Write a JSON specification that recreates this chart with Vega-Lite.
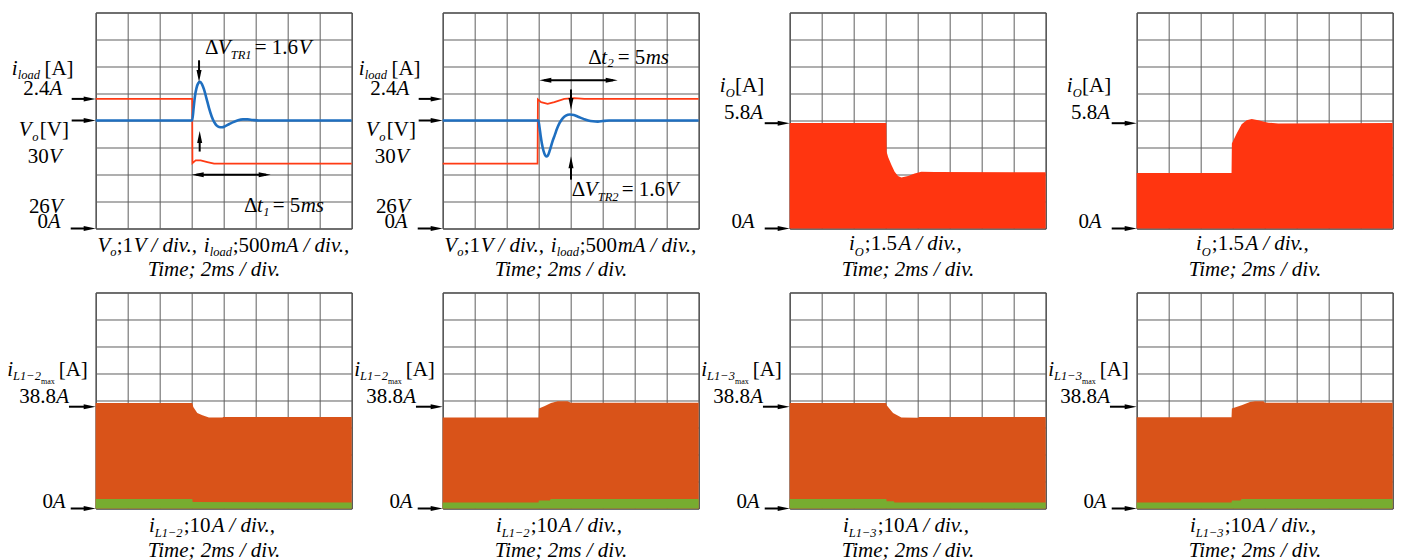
{
"$schema": "https://vega.github.io/schema/vega-lite/v6.json",
"padding": {"left": 6.68, "top": 11.5, "right": 0, "bottom": 0},
"background": "white",
"data": {"values": [
{"p":1,"r":"iload","t":0,"d":4.8},{"p":1,"r":"iload","t":6.03,"d":4.8},{"p":1,"r":"iload","t":6.05,"d":2.42},{"p":1,"r":"iload","t":6.25,"d":2.52},{"p":1,"r":"iload","t":6.56,"d":2.52},{"p":1,"r":"iload","t":6.98,"d":2.46},{"p":1,"r":"iload","t":7.4,"d":2.4},{"p":1,"r":"iload","t":16,"d":2.4},
{"p":1,"r":"vo","t":0,"d":4.0},{"p":1,"r":"vo","t":6.03,"d":4.0},{"p":1,"r":"vo","t":6.12,"d":4.45},{"p":1,"r":"vo","t":6.2,"d":4.88},{"p":1,"r":"vo","t":6.3,"d":5.2},{"p":1,"r":"vo","t":6.4,"d":5.37},{"p":1,"r":"vo","t":6.52,"d":5.43},{"p":1,"r":"vo","t":6.64,"d":5.35},{"p":1,"r":"vo","t":6.77,"d":5.15},{"p":1,"r":"vo","t":6.92,"d":4.83},{"p":1,"r":"vo","t":7.08,"d":4.47},{"p":1,"r":"vo","t":7.25,"d":4.15},{"p":1,"r":"vo","t":7.4,"d":3.95},{"p":1,"r":"vo","t":7.55,"d":3.82},{"p":1,"r":"vo","t":7.71,"d":3.76},{"p":1,"r":"vo","t":7.9,"d":3.75},{"p":1,"r":"vo","t":8.1,"d":3.79},{"p":1,"r":"vo","t":8.33,"d":3.86},{"p":1,"r":"vo","t":8.6,"d":3.94},{"p":1,"r":"vo","t":8.9,"d":4.01},{"p":1,"r":"vo","t":9.2,"d":4.04},{"p":1,"r":"vo","t":9.5,"d":4.04},{"p":1,"r":"vo","t":9.8,"d":4.02},{"p":1,"r":"vo","t":10.2,"d":4.0},{"p":1,"r":"vo","t":16,"d":4.0},
{"p":2,"r":"iload","t":0,"d":2.4},{"p":2,"r":"iload","t":5.93,"d":2.4},{"p":2,"r":"iload","t":5.95,"d":4.78},{"p":2,"r":"iload","t":6.15,"d":4.68},{"p":2,"r":"iload","t":6.56,"d":4.62},{"p":2,"r":"iload","t":6.98,"d":4.68},{"p":2,"r":"iload","t":7.6,"d":4.8},{"p":2,"r":"iload","t":8.23,"d":4.83},{"p":2,"r":"iload","t":8.85,"d":4.8},{"p":2,"r":"iload","t":16,"d":4.8},
{"p":2,"r":"vo","t":0,"d":4.0},{"p":2,"r":"vo","t":5.98,"d":4.0},{"p":2,"r":"vo","t":6.05,"d":3.75},{"p":2,"r":"vo","t":6.12,"d":3.45},{"p":2,"r":"vo","t":6.2,"d":3.15},{"p":2,"r":"vo","t":6.3,"d":2.88},{"p":2,"r":"vo","t":6.4,"d":2.72},{"p":2,"r":"vo","t":6.48,"d":2.67},{"p":2,"r":"vo","t":6.57,"d":2.7},{"p":2,"r":"vo","t":6.7,"d":2.9},{"p":2,"r":"vo","t":6.85,"d":3.2},{"p":2,"r":"vo","t":7.0,"d":3.45},{"p":2,"r":"vo","t":7.15,"d":3.7},{"p":2,"r":"vo","t":7.3,"d":3.9},{"p":2,"r":"vo","t":7.5,"d":4.08},{"p":2,"r":"vo","t":7.7,"d":4.18},{"p":2,"r":"vo","t":7.95,"d":4.22},{"p":2,"r":"vo","t":8.2,"d":4.2},{"p":2,"r":"vo","t":8.5,"d":4.13},{"p":2,"r":"vo","t":8.8,"d":4.06},{"p":2,"r":"vo","t":9.1,"d":4.0},{"p":2,"r":"vo","t":9.4,"d":3.97},{"p":2,"r":"vo","t":9.7,"d":3.96},{"p":2,"r":"vo","t":10.0,"d":3.98},{"p":2,"r":"vo","t":10.4,"d":4.0},{"p":2,"r":"vo","t":16,"d":4.0},
{"p":3,"r":"io","t":0,"d":3.91},{"p":3,"r":"io","t":6.04,"d":3.91},{"p":3,"r":"io","t":6.06,"d":2.84},{"p":3,"r":"io","t":6.15,"d":2.65},{"p":3,"r":"io","t":6.36,"d":2.35},{"p":3,"r":"io","t":6.56,"d":2.1},{"p":3,"r":"io","t":6.77,"d":1.94},{"p":3,"r":"io","t":6.98,"d":1.89},{"p":3,"r":"io","t":7.4,"d":1.94},{"p":3,"r":"io","t":7.81,"d":2.04},{"p":3,"r":"io","t":8.23,"d":2.1},{"p":3,"r":"io","t":9.06,"d":2.09},{"p":3,"r":"io","t":16,"d":2.08},
{"p":4,"r":"io","t":0,"d":2.06},{"p":4,"r":"io","t":5.93,"d":2.06},{"p":4,"r":"io","t":5.95,"d":3.15},{"p":4,"r":"io","t":6.25,"d":3.52},{"p":4,"r":"io","t":6.56,"d":3.86},{"p":4,"r":"io","t":6.875,"d":4.01},{"p":4,"r":"io","t":7.19,"d":4.06},{"p":4,"r":"io","t":7.6,"d":4.01},{"p":4,"r":"io","t":8.23,"d":3.92},{"p":4,"r":"io","t":8.85,"d":3.89},{"p":4,"r":"io","t":16,"d":3.91},
{"p":5,"r":"iL","t":0,"d":3.91},{"p":5,"r":"iL","t":6.04,"d":3.91},{"p":5,"r":"iL","t":6.1,"d":3.76},{"p":5,"r":"iL","t":6.35,"d":3.54},{"p":5,"r":"iL","t":6.67,"d":3.45},{"p":5,"r":"iL","t":7.08,"d":3.37},{"p":5,"r":"iL","t":7.92,"d":3.37},{"p":5,"r":"iL","t":7.98,"d":3.39},{"p":5,"r":"iL","t":16,"d":3.39},
{"p":5,"r":"iLlow","t":0,"d":0.35},{"p":5,"r":"iLlow","t":6.04,"d":0.35},{"p":5,"r":"iLlow","t":6.06,"d":0.24},{"p":5,"r":"iLlow","t":16,"d":0.22},
{"p":6,"r":"iL","t":0,"d":3.37},{"p":6,"r":"iL","t":5.99,"d":3.37},{"p":6,"r":"iL","t":6.01,"d":3.7},{"p":6,"r":"iL","t":6.35,"d":3.79},{"p":6,"r":"iL","t":6.77,"d":3.91},{"p":6,"r":"iL","t":7.19,"d":3.97},{"p":6,"r":"iL","t":7.8,"d":3.97},{"p":6,"r":"iL","t":8.02,"d":3.92},{"p":6,"r":"iL","t":16,"d":3.92},
{"p":6,"r":"iLlow","t":0,"d":0.22},{"p":6,"r":"iLlow","t":5.99,"d":0.22},{"p":6,"r":"iLlow","t":6.01,"d":0.3},{"p":6,"r":"iLlow","t":6.7,"d":0.3},{"p":6,"r":"iLlow","t":6.75,"d":0.35},{"p":6,"r":"iLlow","t":16,"d":0.35},
{"p":7,"r":"iL","t":0,"d":3.91},{"p":7,"r":"iL","t":6.04,"d":3.91},{"p":7,"r":"iL","t":6.06,"d":3.82},{"p":7,"r":"iL","t":6.46,"d":3.54},{"p":7,"r":"iL","t":6.98,"d":3.37},{"p":7,"r":"iL","t":8.0,"d":3.36},{"p":7,"r":"iL","t":8.1,"d":3.39},{"p":7,"r":"iL","t":16,"d":3.39},
{"p":7,"r":"iLlow","t":0,"d":0.35},{"p":7,"r":"iLlow","t":6.04,"d":0.35},{"p":7,"r":"iLlow","t":6.06,"d":0.27},{"p":7,"r":"iLlow","t":6.5,"d":0.27},{"p":7,"r":"iLlow","t":6.55,"d":0.22},{"p":7,"r":"iLlow","t":16,"d":0.22},
{"p":8,"r":"iL","t":0,"d":3.38},{"p":8,"r":"iL","t":5.93,"d":3.38},{"p":8,"r":"iL","t":5.95,"d":3.7},{"p":8,"r":"iL","t":6.56,"d":3.82},{"p":8,"r":"iL","t":7.08,"d":3.94},{"p":8,"r":"iL","t":7.4,"d":3.97},{"p":8,"r":"iL","t":7.92,"d":3.97},{"p":8,"r":"iL","t":8.02,"d":3.92},{"p":8,"r":"iL","t":16,"d":3.92},
{"p":8,"r":"iLlow","t":0,"d":0.22},{"p":8,"r":"iLlow","t":5.93,"d":0.22},{"p":8,"r":"iLlow","t":5.95,"d":0.3},{"p":8,"r":"iLlow","t":6.5,"d":0.3},{"p":8,"r":"iLlow","t":6.55,"d":0.35},{"p":8,"r":"iLlow","t":16,"d":0.35},

{"p":1,"r":"arrow","t":-1.5,"d":4.8,"t2":-0.7,"d2":4.8},{"p":1,"r":"head","t":-0.375,"d":4.8,"dir":"right"},
{"p":1,"r":"arrow","t":-1.5,"d":4.0,"t2":-0.7,"d2":4.0},{"p":1,"r":"head","t":-0.375,"d":4.0,"dir":"right"},
{"p":1,"r":"arrow","t":-1.56,"d":0,"t2":-0.7,"d2":0},{"p":1,"r":"head","t":-0.375,"d":0,"dir":"right"},
{"p":1,"r":"arrow","t":6.46,"d":6.23,"t2":6.46,"d2":5.75},{"p":1,"r":"head","t":6.46,"d":5.65,"dir":"down"},
{"p":1,"r":"arrow","t":6.5,"d":2.85,"t2":6.5,"d2":3.3},{"p":1,"r":"head","t":6.5,"d":3.39,"dir":"up"},
{"p":1,"r":"arrow","t":6.3,"d":1.99,"t2":10.65,"d2":1.99},{"p":1,"r":"head","t":6.375,"d":1.99,"dir":"left"},{"p":1,"r":"head","t":10.565,"d":1.99,"dir":"right"},
{"p":2,"r":"arrow","t":-1.5,"d":4.8,"t2":-0.7,"d2":4.8},{"p":2,"r":"head","t":-0.375,"d":4.8,"dir":"right"},
{"p":2,"r":"arrow","t":-1.5,"d":4.0,"t2":-0.7,"d2":4.0},{"p":2,"r":"head","t":-0.375,"d":4.0,"dir":"right"},
{"p":2,"r":"arrow","t":-1.56,"d":0,"t2":-0.7,"d2":0},{"p":2,"r":"head","t":-0.375,"d":0,"dir":"right"},
{"p":2,"r":"arrow","t":6.35,"d":5.49,"t2":10.65,"d2":5.49},{"p":2,"r":"head","t":6.415,"d":5.49,"dir":"left"},{"p":2,"r":"head","t":10.565,"d":5.49,"dir":"right"},
{"p":2,"r":"arrow","t":8.02,"d":5.15,"t2":8.02,"d2":4.7},{"p":2,"r":"head","t":8.02,"d":4.61,"dir":"down"},
{"p":2,"r":"arrow","t":8.02,"d":1.81,"t2":8.02,"d2":2.35},{"p":2,"r":"head","t":8.02,"d":2.45,"dir":"up"},
{"p":3,"r":"arrow","t":-1.56,"d":3.9,"t2":-0.7,"d2":3.9},{"p":3,"r":"head","t":-0.375,"d":3.9,"dir":"right"},
{"p":3,"r":"arrow","t":-1.56,"d":0,"t2":-0.7,"d2":0},{"p":3,"r":"head","t":-0.375,"d":0,"dir":"right"},
{"p":4,"r":"arrow","t":-1.56,"d":3.9,"t2":-0.7,"d2":3.9},{"p":4,"r":"head","t":-0.375,"d":3.9,"dir":"right"},
{"p":4,"r":"arrow","t":-1.56,"d":0,"t2":-0.7,"d2":0},{"p":4,"r":"head","t":-0.375,"d":0,"dir":"right"},
{"p":5,"r":"arrow","t":-1.67,"d":3.77,"t2":-0.7,"d2":3.77},{"p":5,"r":"head","t":-0.375,"d":3.77,"dir":"right"},
{"p":5,"r":"arrow","t":-1.56,"d":0,"t2":-0.7,"d2":0},{"p":5,"r":"head","t":-0.375,"d":0,"dir":"right"},
{"p":6,"r":"arrow","t":-1.67,"d":3.77,"t2":-0.7,"d2":3.77},{"p":6,"r":"head","t":-0.375,"d":3.77,"dir":"right"},
{"p":6,"r":"arrow","t":-1.56,"d":0,"t2":-0.7,"d2":0},{"p":6,"r":"head","t":-0.375,"d":0,"dir":"right"},
{"p":7,"r":"arrow","t":-1.67,"d":3.77,"t2":-0.7,"d2":3.77},{"p":7,"r":"head","t":-0.375,"d":3.77,"dir":"right"},
{"p":7,"r":"arrow","t":-1.56,"d":0,"t2":-0.7,"d2":0},{"p":7,"r":"head","t":-0.375,"d":0,"dir":"right"},
{"p":8,"r":"arrow","t":-1.67,"d":3.77,"t2":-0.7,"d2":3.77},{"p":8,"r":"head","t":-0.375,"d":3.77,"dir":"right"},
{"p":8,"r":"arrow","t":-1.56,"d":0,"t2":-0.7,"d2":0},{"p":8,"r":"head","t":-0.375,"d":0,"dir":"right"},

{"p":1,"r":"ti","t":-5.25,"d":5.68,"txt":"i"},{"p":1,"r":"ts","t":-4.875,"d":5.52,"txt":"load"},{"p":1,"r":"tn","t":-3.2,"d":5.68,"txt":"[A]"},
{"p":1,"r":"tn","t":-4.52,"d":4.94,"txt":"2.4"},{"p":1,"r":"ti","t":-2.88,"d":4.94,"txt":"A"},
{"p":1,"r":"ti","t":-4.81,"d":3.41,"txt":"V"},{"p":1,"r":"ts","t":-3.97,"d":3.24,"txt":"o"},{"p":1,"r":"tn","t":-3.49,"d":3.41,"txt":"[V]"},
{"p":1,"r":"tn","t":-4.24,"d":2.43,"txt":"30"},{"p":1,"r":"ti","t":-2.925,"d":2.43,"txt":"V"},
{"p":1,"r":"tn","t":-4.175,"d":0.58,"txt":"26"},{"p":1,"r":"ti","t":-2.86,"d":0.58,"txt":"V"},
{"p":1,"r":"tn","t":-3.64,"d":0.02,"txt":"0"},{"p":1,"r":"ti","t":-2.99,"d":0.02,"txt":"A"},
{"p":1,"r":"ti","t":0.106,"d":-0.86,"txt":"V"},{"p":1,"r":"ts","t":0.906,"d":-1.03,"txt":"o"},{"p":1,"r":"tn","t":1.3125,"d":-0.86,"txt":";1"},{"p":1,"r":"ti","t":2.375,"d":-0.86,"txt":"V / div.,"},{"p":1,"r":"ti","t":6.75,"d":-0.86,"txt":"i"},{"p":1,"r":"ts","t":7.125,"d":-1.03,"txt":"load"},{"p":1,"r":"tn","t":8.5625,"d":-0.86,"txt":";500"},{"p":1,"r":"ti","t":10.9375,"d":-0.86,"txt":"mA / div.,"},
{"p":1,"r":"ti","t":3.25,"d":-1.77,"txt":"Time; 2ms / div."},
{"p":1,"r":"tn","t":6.83,"d":6.48,"txt":"Δ"},{"p":1,"r":"ti","t":7.625,"d":6.48,"txt":"V"},{"p":1,"r":"ts","t":8.44,"d":6.29,"txt":"TR1"},{"p":1,"r":"tn","t":9.94,"d":6.48,"txt":"= 1.6"},{"p":1,"r":"ti","t":12.69,"d":6.48,"txt":"V"},
{"p":1,"r":"tn","t":9.27,"d":0.6,"txt":"Δ"},{"p":1,"r":"ti","t":10.075,"d":0.6,"txt":"t"},{"p":1,"r":"ts","t":10.47,"d":0.45,"txt":"1"},{"p":1,"r":"tn","t":11.06,"d":0.6,"txt":"= 5"},{"p":1,"r":"ti","t":12.81,"d":0.6,"txt":"ms"},

{"p":2,"r":"ti","t":-5.25,"d":5.68,"txt":"i"},{"p":2,"r":"ts","t":-4.875,"d":5.52,"txt":"load"},{"p":2,"r":"tn","t":-3.2,"d":5.68,"txt":"[A]"},
{"p":2,"r":"tn","t":-4.52,"d":4.94,"txt":"2.4"},{"p":2,"r":"ti","t":-2.88,"d":4.94,"txt":"A"},
{"p":2,"r":"ti","t":-4.81,"d":3.41,"txt":"V"},{"p":2,"r":"ts","t":-3.97,"d":3.24,"txt":"o"},{"p":2,"r":"tn","t":-3.49,"d":3.41,"txt":"[V]"},
{"p":2,"r":"tn","t":-4.24,"d":2.43,"txt":"30"},{"p":2,"r":"ti","t":-2.925,"d":2.43,"txt":"V"},
{"p":2,"r":"tn","t":-4.175,"d":0.58,"txt":"26"},{"p":2,"r":"ti","t":-2.86,"d":0.58,"txt":"V"},
{"p":2,"r":"tn","t":-3.64,"d":0.02,"txt":"0"},{"p":2,"r":"ti","t":-2.99,"d":0.02,"txt":"A"},
{"p":2,"r":"ti","t":0.106,"d":-0.86,"txt":"V"},{"p":2,"r":"ts","t":0.906,"d":-1.03,"txt":"o"},{"p":2,"r":"tn","t":1.3125,"d":-0.86,"txt":";1"},{"p":2,"r":"ti","t":2.375,"d":-0.86,"txt":"V / div.,"},{"p":2,"r":"ti","t":6.75,"d":-0.86,"txt":"i"},{"p":2,"r":"ts","t":7.125,"d":-1.03,"txt":"load"},{"p":2,"r":"tn","t":8.5625,"d":-0.86,"txt":";500"},{"p":2,"r":"ti","t":10.9375,"d":-0.86,"txt":"mA / div.,"},
{"p":2,"r":"ti","t":3.25,"d":-1.77,"txt":"Time; 2ms / div."},
{"p":2,"r":"tn","t":9.1,"d":6.11,"txt":"Δ"},{"p":2,"r":"ti","t":9.906,"d":6.11,"txt":"t"},{"p":2,"r":"ts","t":10.3,"d":5.98,"txt":"2"},{"p":2,"r":"tn","t":10.94,"d":6.11,"txt":"= 5"},{"p":2,"r":"ti","t":12.69,"d":6.11,"txt":"ms"},
{"p":2,"r":"tn","t":8.06,"d":1.19,"txt":"Δ"},{"p":2,"r":"ti","t":8.875,"d":1.19,"txt":"V"},{"p":2,"r":"ts","t":9.69,"d":1.01,"txt":"TR2"},{"p":2,"r":"tn","t":11.19,"d":1.19,"txt":"= 1.6"},{"p":2,"r":"ti","t":13.94,"d":1.19,"txt":"V"},

{"p":3,"r":"ti","t":-4.375,"d":5.06,"txt":"i"},{"p":3,"r":"ts","t":-4.0,"d":4.88,"txt":"O"},{"p":3,"r":"tn","t":-3.41,"d":5.06,"txt":"[A]"},
{"p":3,"r":"tn","t":-4.11,"d":4.04,"txt":"5.8"},{"p":3,"r":"ti","t":-2.47,"d":4.04,"txt":"A"},
{"p":3,"r":"tn","t":-3.64,"d":0.03,"txt":"0"},{"p":3,"r":"ti","t":-2.99,"d":0.03,"txt":"A"},
{"p":3,"r":"ti","t":3.71,"d":-0.8,"txt":"i"},{"p":3,"r":"ts","t":4.06,"d":-1.02,"txt":"O"},{"p":3,"r":"tn","t":4.7,"d":-0.8,"txt":";1.5"},{"p":3,"r":"ti","t":6.8,"d":-0.8,"txt":"A / div.,"},
{"p":3,"r":"ti","t":3.25,"d":-1.77,"txt":"Time; 2ms / div."},
{"p":4,"r":"ti","t":-4.375,"d":5.06,"txt":"i"},{"p":4,"r":"ts","t":-4.0,"d":4.88,"txt":"O"},{"p":4,"r":"tn","t":-3.41,"d":5.06,"txt":"[A]"},
{"p":4,"r":"tn","t":-4.11,"d":4.04,"txt":"5.8"},{"p":4,"r":"ti","t":-2.47,"d":4.04,"txt":"A"},
{"p":4,"r":"tn","t":-3.64,"d":0.03,"txt":"0"},{"p":4,"r":"ti","t":-2.99,"d":0.03,"txt":"A"},
{"p":4,"r":"ti","t":3.71,"d":-0.8,"txt":"i"},{"p":4,"r":"ts","t":4.06,"d":-1.02,"txt":"O"},{"p":4,"r":"tn","t":4.7,"d":-0.8,"txt":";1.5"},{"p":4,"r":"ti","t":6.8,"d":-0.8,"txt":"A / div.,"},
{"p":4,"r":"ti","t":3.25,"d":-1.77,"txt":"Time; 2ms / div."},

{"p":5,"r":"ti","t":-5.52,"d":4.92,"txt":"i"},{"p":5,"r":"ts","t":-5.16,"d":4.76,"txt":"L1−2"},{"p":5,"r":"tss","t":-3.41,"d":4.62,"txt":"max"},{"p":5,"r":"tn","t":-2.31,"d":4.92,"txt":"[A]"},
{"p":5,"r":"tn","t":-4.77,"d":3.9,"txt":"38.8"},{"p":5,"r":"ti","t":-2.47,"d":3.9,"txt":"A"},
{"p":5,"r":"tn","t":-3.33,"d":0.01,"txt":"0"},{"p":5,"r":"ti","t":-2.68,"d":0.01,"txt":"A"},
{"p":5,"r":"ti","t":3.33,"d":-0.87,"txt":"i"},{"p":5,"r":"ts","t":3.69,"d":-1.05,"txt":"L1−2"},{"p":5,"r":"tn","t":5.5,"d":-0.87,"txt":";10"},{"p":5,"r":"ti","t":7.25,"d":-0.87,"txt":"A / div.,"},
{"p":5,"r":"ti","t":3.25,"d":-1.78,"txt":"Time; 2ms / div."},
{"p":6,"r":"ti","t":-5.52,"d":4.92,"txt":"i"},{"p":6,"r":"ts","t":-5.16,"d":4.76,"txt":"L1−2"},{"p":6,"r":"tss","t":-3.41,"d":4.62,"txt":"max"},{"p":6,"r":"tn","t":-2.31,"d":4.92,"txt":"[A]"},
{"p":6,"r":"tn","t":-4.77,"d":3.9,"txt":"38.8"},{"p":6,"r":"ti","t":-2.47,"d":3.9,"txt":"A"},
{"p":6,"r":"tn","t":-3.33,"d":0.01,"txt":"0"},{"p":6,"r":"ti","t":-2.68,"d":0.01,"txt":"A"},
{"p":6,"r":"ti","t":3.33,"d":-0.87,"txt":"i"},{"p":6,"r":"ts","t":3.69,"d":-1.05,"txt":"L1−2"},{"p":6,"r":"tn","t":5.5,"d":-0.87,"txt":";10"},{"p":6,"r":"ti","t":7.25,"d":-0.87,"txt":"A / div.,"},
{"p":6,"r":"ti","t":3.25,"d":-1.78,"txt":"Time; 2ms / div."},
{"p":7,"r":"ti","t":-5.52,"d":4.92,"txt":"i"},{"p":7,"r":"ts","t":-5.16,"d":4.76,"txt":"L1−3"},{"p":7,"r":"tss","t":-3.41,"d":4.62,"txt":"max"},{"p":7,"r":"tn","t":-2.31,"d":4.92,"txt":"[A]"},
{"p":7,"r":"tn","t":-4.77,"d":3.9,"txt":"38.8"},{"p":7,"r":"ti","t":-2.47,"d":3.9,"txt":"A"},
{"p":7,"r":"tn","t":-3.33,"d":0.01,"txt":"0"},{"p":7,"r":"ti","t":-2.68,"d":0.01,"txt":"A"},
{"p":7,"r":"ti","t":3.33,"d":-0.87,"txt":"i"},{"p":7,"r":"ts","t":3.69,"d":-1.05,"txt":"L1−3"},{"p":7,"r":"tn","t":5.5,"d":-0.87,"txt":";10"},{"p":7,"r":"ti","t":7.25,"d":-0.87,"txt":"A / div.,"},
{"p":7,"r":"ti","t":3.25,"d":-1.78,"txt":"Time; 2ms / div."},
{"p":8,"r":"ti","t":-5.52,"d":4.92,"txt":"i"},{"p":8,"r":"ts","t":-5.16,"d":4.76,"txt":"L1−3"},{"p":8,"r":"tss","t":-3.41,"d":4.62,"txt":"max"},{"p":8,"r":"tn","t":-2.31,"d":4.92,"txt":"[A]"},
{"p":8,"r":"tn","t":-4.77,"d":3.9,"txt":"38.8"},{"p":8,"r":"ti","t":-2.47,"d":3.9,"txt":"A"},
{"p":8,"r":"tn","t":-3.33,"d":0.01,"txt":"0"},{"p":8,"r":"ti","t":-2.68,"d":0.01,"txt":"A"},
{"p":8,"r":"ti","t":3.33,"d":-0.87,"txt":"i"},{"p":8,"r":"ts","t":3.69,"d":-1.05,"txt":"L1−3"},{"p":8,"r":"tn","t":5.5,"d":-0.87,"txt":";10"},{"p":8,"r":"ti","t":7.25,"d":-0.87,"txt":"A / div.,"},
{"p":8,"r":"ti","t":3.25,"d":-1.78,"txt":"Time; 2ms / div."}
]},
"facet": {"field": "p", "type": "ordinal", "header": {"title": null, "labels": false, "labelExpr": "''", "labelFontSize": 0, "labelPadding": 0, "titlePadding": 0}},
"columns": 4,
"spacing": {"row": 64, "column": 91},
"bounds": "flush",
"spec": {
  "width": 256,
  "height": 216,
  "encoding": {
    "x": {"field": "t", "type": "quantitative", "scale": {"domain": [0, 16], "nice": false, "zero": false},
          "axis": {"values": [0,2,4,6,8,10,12,14,16], "grid": true, "labels": false, "ticks": false, "domain": false, "title": null, "gridColor": "#5e5e5e", "gridWidth": 1, "gridOpacity": 1}},
    "y": {"field": "d", "type": "quantitative", "scale": {"domain": [0, 8], "nice": false, "zero": false},
          "axis": {"values": [0,1,2,3,4,5,6,7,8], "grid": true, "labels": false, "ticks": false, "domain": false, "title": null, "gridColor": "#5e5e5e", "gridWidth": 1, "gridOpacity": 1}}
  },
  "layer": [
    {"transform": [{"filter": "datum.r === 'iL'"}], "mark": {"type": "area", "color": "#D95319", "opacity": 1}},
    {"transform": [{"filter": "datum.r === 'iLlow'"}], "mark": {"type": "area", "color": "#77AC30", "opacity": 1}},
    {"transform": [{"filter": "datum.r === 'io'"}], "mark": {"type": "area", "color": "#FF3510", "opacity": 1}},
    {"transform": [{"filter": "datum.r === 'iload'"}], "mark": {"type": "line", "color": "#FF3B14", "strokeWidth": 1.7}},
    {"transform": [{"filter": "datum.r === 'vo'"}], "mark": {"type": "line", "color": "#1F6FC0", "strokeWidth": 2.6, "interpolate": "monotone"}},
    {"transform": [{"filter": "datum.r === 'arrow'"}], "mark": {"type": "rule", "color": "#000000", "strokeWidth": 2},
     "encoding": {"x2": {"field": "t2"}, "y2": {"field": "d2"}}},
    {"transform": [{"filter": "datum.r === 'head'"}], "mark": {"type": "point", "filled": true, "color": "#000000", "opacity": 1, "size": 144, "strokeWidth": 0},
     "encoding": {"shape": {"field": "dir", "type": "nominal", "legend": null,
       "scale": {"domain": ["up", "down", "left", "right"], "range": ["M0,-1L-0.42,1L0.42,1Z", "M0,1L-0.42,-1L0.42,-1Z", "M-1,0L1,-0.42L1,0.42Z", "M1,0L-1,-0.42L-1,0.42Z"]}}}},
    {"transform": [{"filter": "datum.r === 'tn'"}], "mark": {"type": "text", "font": "Liberation Serif", "fontSize": 21, "align": "left", "baseline": "alphabetic", "color": "#000000"},
     "encoding": {"text": {"field": "txt"}}},
    {"transform": [{"filter": "datum.r === 'ti'"}], "mark": {"type": "text", "font": "Liberation Serif", "fontSize": 21, "fontStyle": "italic", "align": "left", "baseline": "alphabetic", "color": "#000000"},
     "encoding": {"text": {"field": "txt"}}},
    {"transform": [{"filter": "datum.r === 'ts'"}], "mark": {"type": "text", "font": "Liberation Serif", "fontSize": 12.5, "fontStyle": "italic", "align": "left", "baseline": "alphabetic", "color": "#000000"},
     "encoding": {"text": {"field": "txt"}}},
    {"transform": [{"filter": "datum.r === 'tss'"}], "mark": {"type": "text", "font": "Liberation Serif", "fontSize": 8, "align": "left", "baseline": "alphabetic", "color": "#000000"},
     "encoding": {"text": {"field": "txt"}}}
  ]
},
"config": {"view": {"stroke": "#000000", "strokeWidth": 1}, "header": {"labels": false, "title": null, "labelFontSize": 0, "labelPadding": 0}, "headerFacet": {"labels": false, "title": null, "labelFontSize": 0, "labelPadding": 0}}
}
